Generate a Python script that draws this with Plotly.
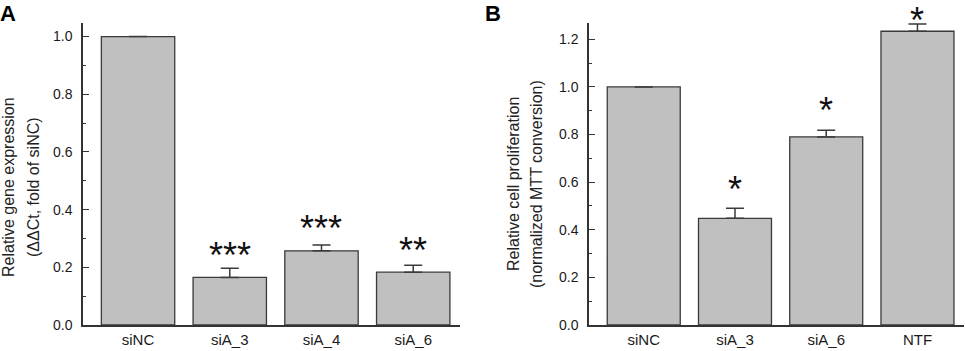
import plotly.graph_objects as go

# ---- data ----
cats_a = ["siNC", "siA_3", "siA_4", "siA_6"]
vals_a = [1.0, 0.165, 0.257, 0.183]
errs_a = [0.0, 0.032, 0.020, 0.024]
stars_a = ["", "***", "***", "**"]

cats_b = ["siNC", "siA_3", "siA_6", "NTF"]
vals_b = [1.0, 0.448, 0.790, 1.234]
errs_b = [0.0, 0.042, 0.028, 0.031]
stars_b = ["", "*", "*", "*"]

yticks = [0.0, 0.2, 0.4, 0.6, 0.8, 1.0, 1.2]

# ---- style ----
W, H = 965, 351
FONT = "Liberation Sans, Arial, sans-serif"
BAR_FILL = "#c0c0c0"
EDGE = "#3a3a3a"
star_shift_a = [0, 13, 17, 15]
star_shift_b = [0, 19, 20, 3]


def px_x(p):
    return p / W


def px_y(p):
    return 1 - p / H


fig = go.Figure()

for cats, vals, errs, xa, ya in [
    (cats_a, vals_a, errs_a, "x", "y"),
    (cats_b, vals_b, errs_b, "x2", "y2"),
]:
    fig.add_trace(go.Bar(
        x=cats, y=vals, xaxis=xa, yaxis=ya,
        marker=dict(color=BAR_FILL, line=dict(color=EDGE, width=1.3)),
        width=0.8,
        error_y=dict(type="data", array=errs, arrayminus=[0] * len(errs),
                     symmetric=False, color=EDGE, thickness=1.5, width=9,
                     visible=True),
        showlegend=False,
        hoverinfo="skip",
    ))

axis_common = dict(showline=True, linecolor="#333333", linewidth=1.5,
                   showgrid=False, zeroline=False, automargin=False)

yaxis_common = dict(
    **axis_common,
    tickvals=yticks, ticktext=[f"{v:.1f}" for v in yticks],
    ticks="inside", ticklen=6, tickwidth=1.2, tickcolor="#333333",
    minor=dict(ticks="inside", ticklen=3, dtick=0.1, tickwidth=1.2,
               tickcolor="#333333", showgrid=False),
    tickfont=dict(family=FONT, size=14, color="#1a1a1a"),
    ticklabelstandoff=6,
)

xaxis_common = dict(
    **axis_common, ticks="", type="category",
    tickfont=dict(family=FONT, size=15, color="#1a1a1a"),
    range=[-0.6, 3.51],
)

fig.update_layout(
    template="none",
    width=W, height=H,
    margin=dict(l=0, r=0, t=0, b=0, pad=0),
    plot_bgcolor="white", paper_bgcolor="white",
    bargap=0.2,
    xaxis=dict(**xaxis_common, domain=[px_x(83), px_x(460)], anchor="y"),
    yaxis=dict(**yaxis_common, domain=[px_y(325), px_y(22.7)],
               range=[0, 1.048], anchor="x"),
    xaxis2=dict(**xaxis_common, domain=[px_x(589), px_x(964)], anchor="y2"),
    yaxis2=dict(**yaxis_common, domain=[px_y(325), px_y(22.7)],
                range=[0, 1.27], anchor="x2"),
)

annotations = []
for cats, vals, errs, stars, shifts, xr, yr in [
    (cats_a, vals_a, errs_a, stars_a, star_shift_a, "x", "y"),
    (cats_b, vals_b, errs_b, stars_b, star_shift_b, "x2", "y2"),
]:
    for c, v, e, s, sh in zip(cats, vals, errs, stars, shifts):
        if s:
            annotations.append(dict(
                x=c, y=v + e, xref=xr, yref=yr, text=s, showarrow=False,
                yanchor="middle", yshift=sh,
                font=dict(family=FONT, size=36, color="#111111")))

# panel letters
annotations.append(dict(x=px_x(0), y=px_y(0), xref="paper", yref="paper",
                        text="<b>A</b>", showarrow=False, xanchor="left",
                        yanchor="top", yshift=1, xshift=-2,
                        font=dict(family=FONT, size=22, color="#000000")))
annotations.append(dict(x=px_x(485), y=px_y(0), xref="paper", yref="paper",
                        text="<b>B</b>", showarrow=False, xanchor="left",
                        yanchor="top", yshift=1, xshift=-2,
                        font=dict(family=FONT, size=22, color="#000000")))

# y titles (two lines each)
for text, xp, yp in [
    ("Relative gene expression", 9, 187),
    ("(ΔΔCt, fold of siNC)", 34, 187),
    ("Relative cell proliferation", 513, 184),
    ("(normalized MTT conversion)", 536, 184),
]:
    annotations.append(dict(x=px_x(xp), y=px_y(yp), xref="paper",
                            yref="paper", text=text, showarrow=False,
                            textangle=-90, xanchor="center",
                            yanchor="middle",
                            font=dict(family=FONT, size=16,
                                      color="#222222")))

fig.update_layout(annotations=annotations)

fig.write_html(
    "out.html",
    config={"displayModeBar": False},
    post_script="document.body.style.margin='0';"
                "document.body.style.overflow='hidden';",
)
